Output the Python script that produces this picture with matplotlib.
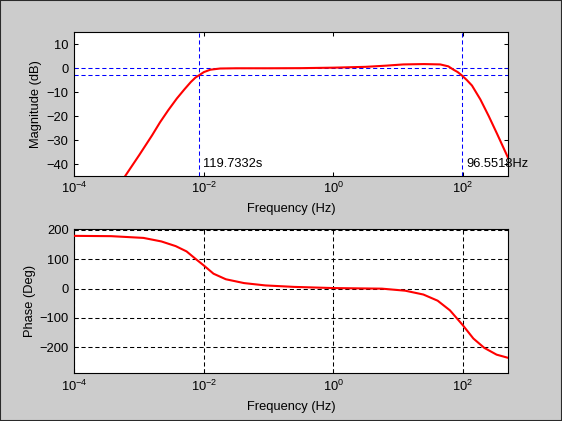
import numpy as np
import matplotlib
matplotlib.use("Agg")
import matplotlib.pyplot as plt
from matplotlib.ticker import FixedLocator, FuncFormatter, NullLocator
from matplotlib.patches import Rectangle

plt.rcParams['font.family'] = ['Liberation Sans', 'DejaVu Sans']
plt.rcParams['mathtext.default'] = 'regular'
plt.rcParams['lines.scale_dashes'] = False

# ---- data ----
mag_freq = [6.08e-4, 1.0e-3, 1.585e-3, 2.11e-3, 2.82e-3, 3.83e-3, 5.01e-3, 6.31e-3,
            7.41e-3, 8.35e-3, 0.010, 0.0126, 0.0178, 0.0316, 0.1, 0.316, 1.0, 3.16,
            6.61, 12.0, 25.1, 44.7, 59.6, 71.6, 83.2, 96.55, 114.8, 138, 186, 251,
            339, 417, 501]
mag_db = [-45.0, -36.3, -28.0, -22.5, -17.5, -12.6, -8.8, -5.7,
          -3.9, -3.0, -1.6, -0.6, -0.1, 0.0, 0.0, 0.05, 0.25, 0.6,
          1.1, 1.6, 1.75, 1.6, 0.8, -0.6, -1.6, -3.0, -4.9, -7.2, -13.0, -20.0,
          -27.5, -32.8, -37.5]

ph_freq = [1e-4, 3.7e-4, 1.17e-3, 2.21e-3, 3.68e-3, 5.41e-3, 7.41e-3, 0.01, 0.0141,
           0.0219, 0.0417, 0.0891, 0.248, 1.0, 5.62, 12.9, 24.5, 40.7, 63.1, 100,
           145, 214, 331, 501]
ph_deg = [180, 179, 173, 161, 145, 127, 102, 79, 51,
          32, 19, 11, 6, 2, 0, -7, -20, -41, -74, -125,
          -170, -202, -225, -236]

low_cut_period = 119.7332   # s
low_cut_freq = 1.0 / low_cut_period
high_cut_freq = 96.5518     # Hz
low_label = '119.7332s'
high_label = '96.5518Hz'
ref_levels = [0, -3]

x_ticks = [1e-4, 1e-2, 1e0, 1e2]
mag_yticks = [-40, -30, -20, -10, 0, 10]
ph_yticks = [-200, -100, 0, 100, 200]

FS = 9.3
W, H = 562, 421
fig = plt.figure(figsize=(W / 100, H / 100), dpi=100, facecolor='#cccccc')
fig.patches.append(Rectangle((0, 0), 1, 1, transform=fig.transFigure, fill=False,
                             edgecolor='#2a2a2a', lw=1.5, zorder=10))

def fx(px): return px / W
def fy(py): return 1 - py / H

ax1 = fig.add_axes([fx(74.3), fy(175.7), fx(508.3 - 74.3), (175.7 - 32.3) / H])
ax2 = fig.add_axes([fx(74.3), fy(373.3), fx(508.3 - 74.3), (373.3 - 229) / H])

fmt = FuncFormatter(lambda v, p: r'$\mathregular{10^{%d}}$' % int(round(np.log10(v))))

for ax in (ax1, ax2):
    ax.set_xscale('log')
    ax.set_xlim(1e-4, 502)
    ax.xaxis.set_major_locator(FixedLocator(x_ticks))
    ax.xaxis.set_minor_locator(NullLocator())
    ax.xaxis.set_major_formatter(fmt)
    ax.tick_params(direction='in', length=3, width=0.75, top=True, right=True,
                   labelsize=FS, pad=4, colors='black')
    for s in ax.spines.values():
        s.set_linewidth(0.8)
        s.set_color('black')
    ax.set_facecolor('white')
    ax.set_xlabel('Frequency (Hz)', fontsize=FS)
    ax.xaxis.set_label_coords(0.5, -0.19)

# Magnitude
ax1.plot(mag_freq, mag_db, color='red', lw=1.5, zorder=3)
ax1.set_ylim(-44.8, 15)
ax1.yaxis.set_major_locator(FixedLocator(mag_yticks))
for lv in ref_levels:
    ax1.axhline(lv, color='blue', lw=0.75, dashes=(3, 2), zorder=2)
for fc in (low_cut_freq, high_cut_freq):
    ax1.axvline(fc, color='blue', lw=0.75, dashes=(3, 2), zorder=2)
ax1.annotate(low_label, xy=(low_cut_freq, -40), xytext=(4, 0), textcoords='offset pixels',
             va='center', ha='left', fontsize=FS, zorder=4, annotation_clip=False)
ax1.annotate(high_label, xy=(high_cut_freq, -40), xytext=(4, 0), textcoords='offset pixels',
             va='center', ha='left', fontsize=FS, zorder=4, annotation_clip=False)
ax1.set_ylabel('Magnitude (dB)', fontsize=FS)
ax1.yaxis.set_label_coords(-0.075, 0.5)

# Phase
ax2.plot(ph_freq, ph_deg, color='red', lw=1.5, zorder=3)
ax2.set_ylim(-288.6, 203.4)
ax2.yaxis.set_major_locator(FixedLocator(ph_yticks))
ax2.grid(True, which='major', color='black', lw=0.75, dashes=(3, 2))
ax2.set_axisbelow(False)
ax2.set_ylabel('Phase (Deg)', fontsize=FS)
ax2.yaxis.set_label_coords(-0.088, 0.5)

fig.savefig('out.png', dpi=100, facecolor=fig.get_facecolor())
